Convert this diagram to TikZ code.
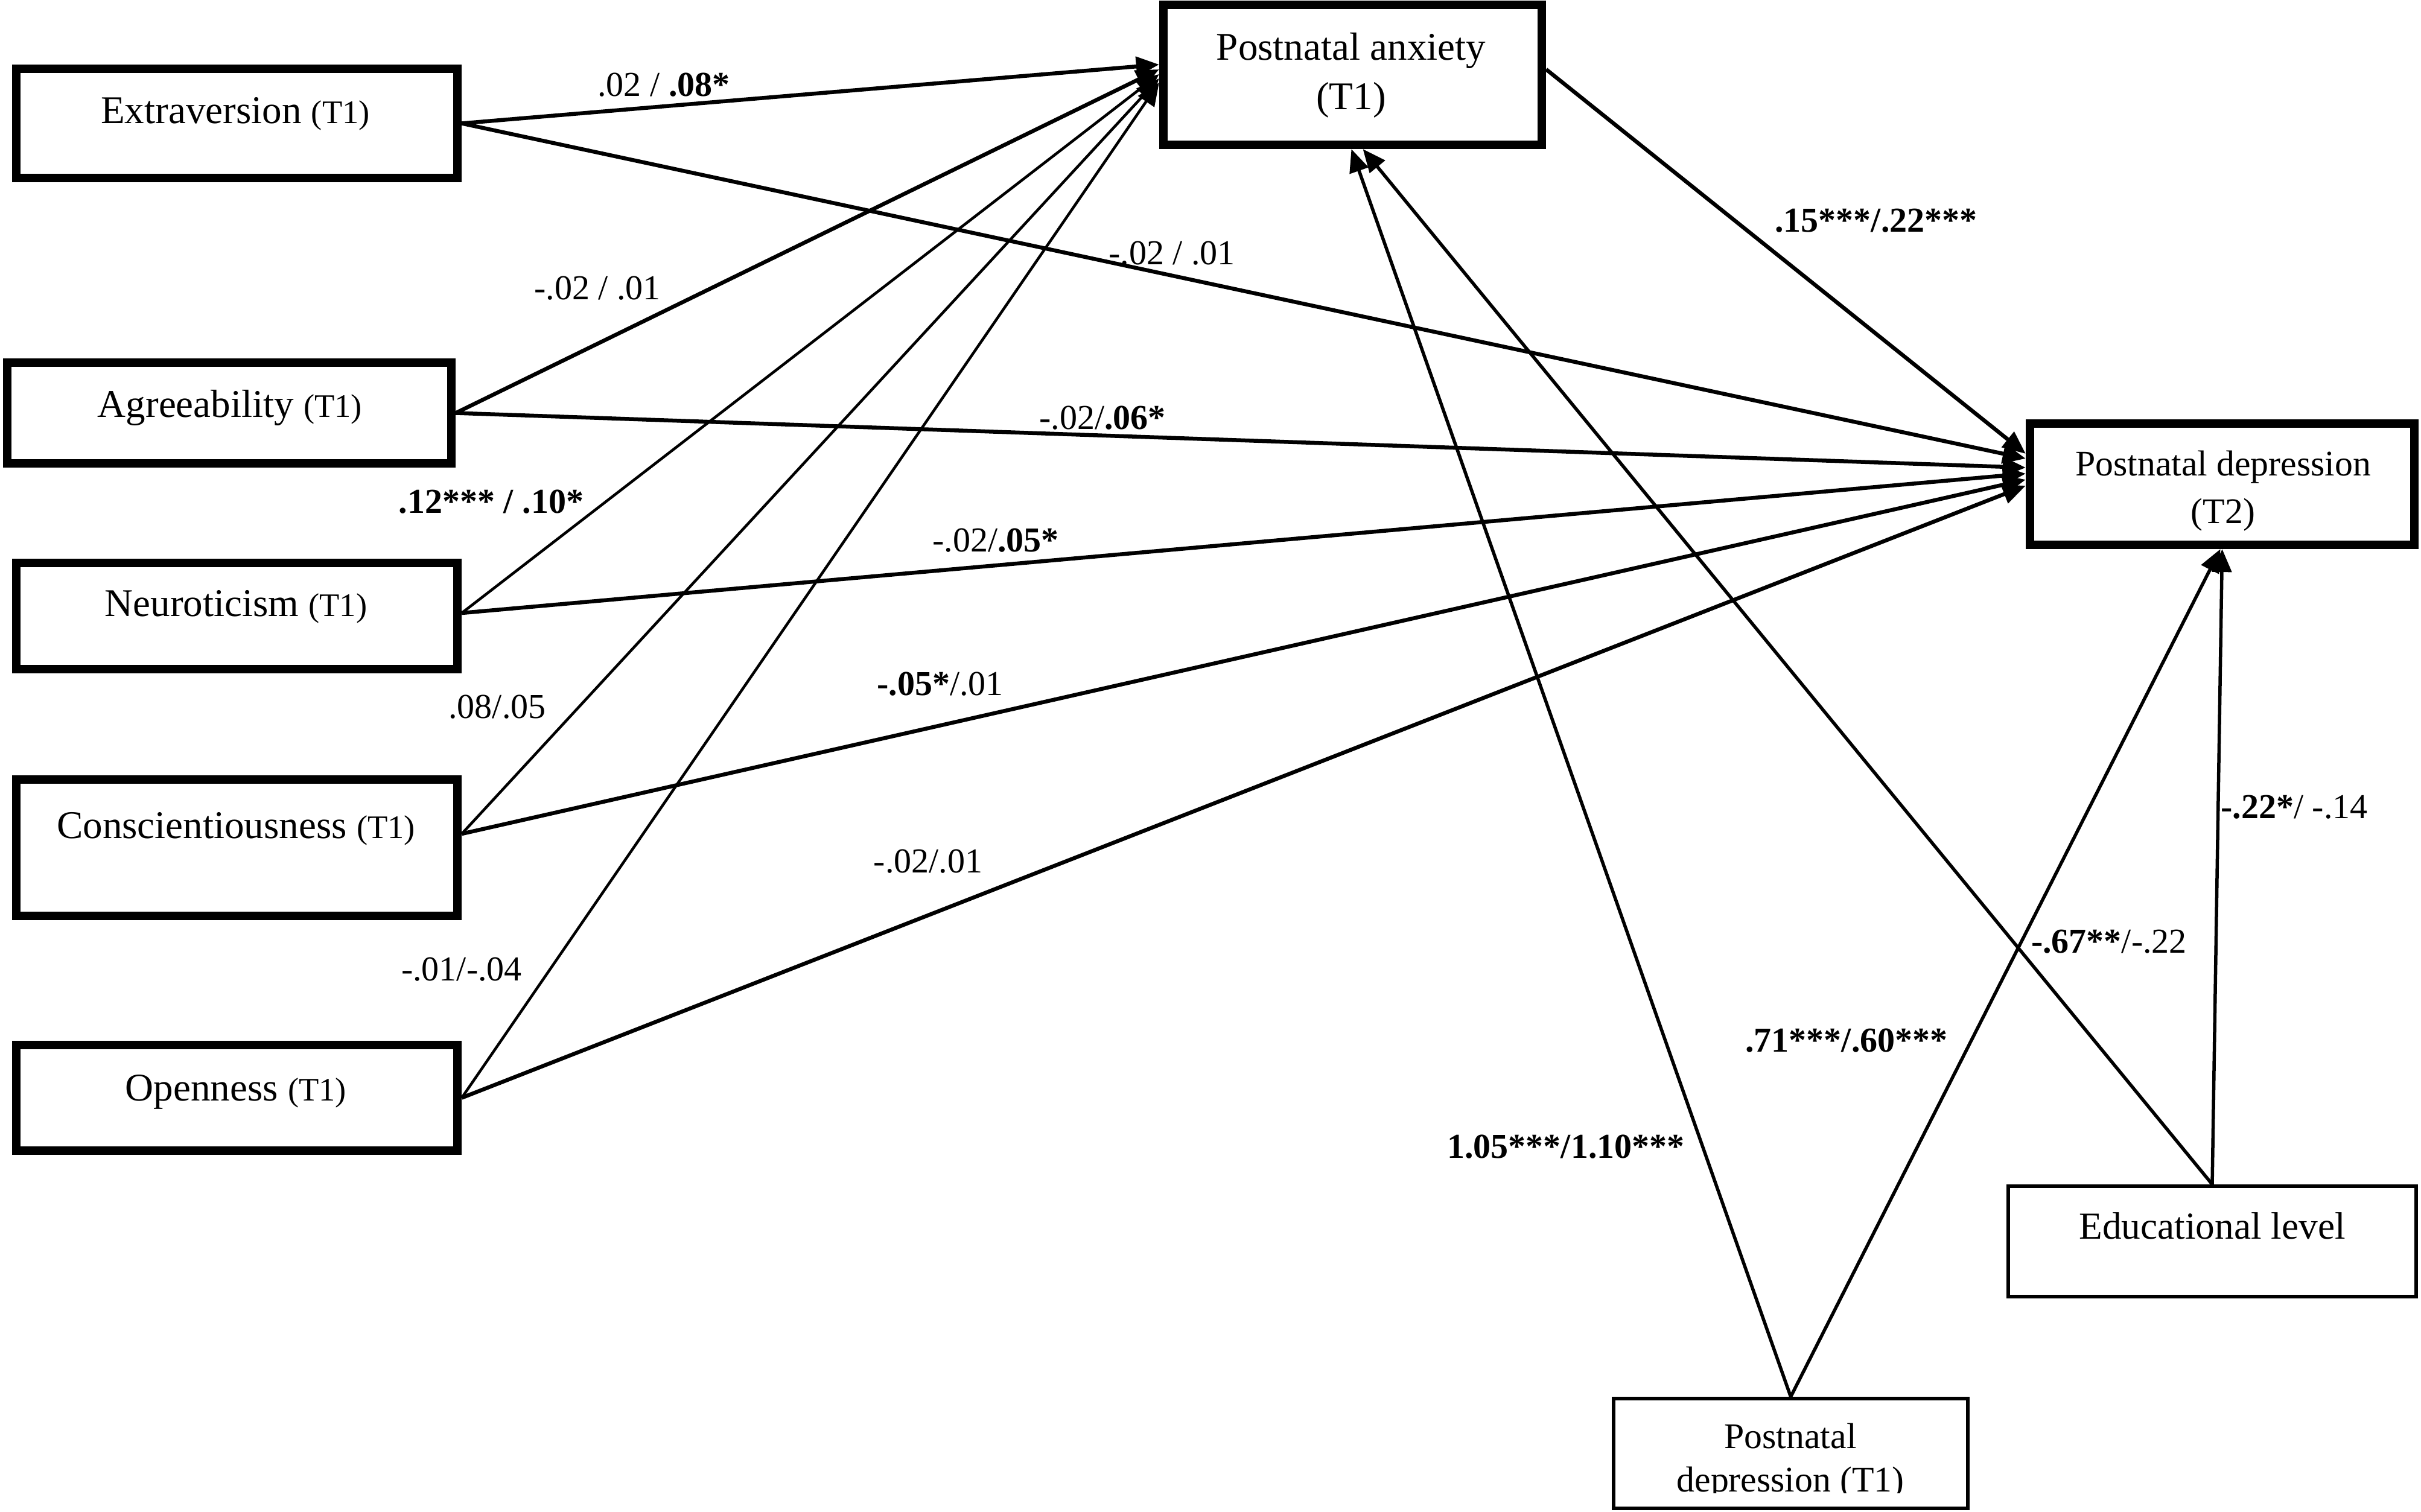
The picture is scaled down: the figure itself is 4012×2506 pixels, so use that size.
\documentclass[tikz,border=0pt]{standalone}
\usepackage{fontspec}
\setmainfont{Liberation Serif}
\usetikzlibrary{arrows.meta}
\newcommand{\tsmall}{\fontsize{15.5}{18}\selectfont}
\begin{document}
\begin{tikzpicture}[x=0.01cm,y=-0.01cm,
  bigbox/.style={draw, line width=0.14cm, inner sep=0pt, rectangle},
  smallbox/.style={draw, line width=0.06cm, inner sep=0pt, rectangle},
  boxtext/.style={anchor=base, inner sep=0pt, font=\fontsize{18.5}{22}\selectfont},
  midtext/.style={anchor=base, inner sep=0pt, font=\fontsize{17}{20}\selectfont},
  lab/.style={inner sep=0pt, font=\fontsize{16.5}{19}\selectfont},
  tip/.style={-{Triangle[length=0.38cm,width=0.32cm]}},
  thickarr/.style={tip, line width=0.065cm},
  thinarr/.style={tip, line width=0.045cm},
  botarr/.style={tip, line width=0.055cm},
]
\useasboundingbox (0,0) rectangle (4012,2506);

% ---- texts of boxes
\node[boxtext] (extrT) at (390,205) {Extraversion {\tsmall (T1)}};
\node[boxtext] (agreeT) at (381,691) {Agreeability {\tsmall (T1)}};
\node[boxtext] (neurT) at (391,1021) {Neuroticism {\tsmall (T1)}};
\node[boxtext] (conscT) at (391,1389) {Conscientiousness {\tsmall (T1)}};
\node[boxtext] (openT) at (391,1824) {Openness {\tsmall (T1)}};
\node[boxtext] (anxT1) at (2239,100) {Postnatal anxiety};
\node[boxtext] (anxT2) at (2239,182) {(T1)};
\node[midtext] (depT1) at (3684,788) {Postnatal depression};
\node[midtext] (depT2) at (3684,867) {(T2)};
\node[boxtext, font=\fontsize{18}{21}\selectfont] (eduT) at (3666,2053) {Educational level};
\node[midtext] (pdT1) at (2967,2400) {Postnatal};
\begin{scope}
  \clip (2671,2420) rectangle (3264,2474);
  \node[midtext] (pdT2) at (2967,2472) {depression (T1)};
\end{scope}

% ---- boxes
\node[bigbox, minimum width=7.31cm, minimum height=1.81cm] (extr) at (392.5,204.5) {};
\node[bigbox, minimum width=7.36cm, minimum height=1.67cm] (agree) at (380,684.5) {};
\node[bigbox, minimum width=7.31cm, minimum height=1.76cm] (neur) at (392.5,1021) {};
\node[bigbox, minimum width=7.31cm, minimum height=2.26cm] (consc) at (392.5,1405) {};
\node[bigbox, minimum width=7.31cm, minimum height=1.75cm] (open) at (392.5,1819.5) {};
\node[bigbox, minimum width=6.27cm, minimum height=2.32cm] (anx) at (2241.5,124) {};
\node[bigbox, minimum width=6.37cm, minimum height=2.01cm] (dep) at (3682.5,802.5) {};
\node[smallbox, minimum width=6.76cm, minimum height=1.83cm] (edu) at (3666,2057.5) {};
\node[smallbox, minimum width=5.87cm, minimum height=1.82cm] (pd1) at (2967.5,2409) {};

% ---- connectors
\draw[thickarr] (extr.east) -- ([yshift=0.17cm]anx.west);
\draw[thickarr] (extr.east) -- ([yshift=0.425cm]dep.west);
\draw[thickarr] (agree.east) -- ([yshift=0.09cm]anx.west);
\draw[thickarr] (agree.east) -- ([yshift=0.275cm]dep.west);
\draw[thinarr] ([yshift=0.05cm]neur.east) -- ([yshift=0.01cm]anx.west);
\draw[thickarr] ([yshift=0.05cm]neur.east) -- ([yshift=0.175cm]dep.west);
\draw[thinarr] ([yshift=0.23cm]consc.east) -- ([yshift=-0.06cm]anx.west);
\draw[thickarr] ([yshift=0.23cm]consc.east) -- ([yshift=0.075cm]dep.west);
\draw[thinarr] (open.east) -- ([yshift=-0.13cm]anx.west);
\draw[thickarr] (open.east) -- ([yshift=-0.025cm]dep.west);
\draw[thickarr] ([yshift=0.09cm]anx.east) -- ([yshift=0.505cm]dep.west);
\draw[botarr] (pd1.north) -- ([xshift=-0.02cm]anx.south);
\draw[botarr] (pd1.north) -- ([xshift=-0.03cm]dep.south);
\draw[botarr] (edu.north) -- ([xshift=0.17cm]anx.south);
\draw[botarr] (edu.north) -- (dep.south);

% ---- labels
\node[lab] (l1) at (1100,141) {.02 / \textbf{.08*}};
\node[lab] (l2) at (1942,420) {-.02 / .01};
\node[lab] (l3) at (990,478) {-.02 / .01};
\node[lab] (l4) at (1827,693) {-.02/\textbf{.06*}};
\node[lab] (l5) at (814,832) {\textbf{.12*** / .10*}};
\node[lab] (l6) at (1650,896) {-.02/\textbf{.05*}};
\node[lab] (l7) at (824,1172) {.08/.05};
\node[lab] (l8) at (1558,1134) {\textbf{-.05*}/.01};
\node[lab] (l9) at (1538,1428) {-.02/.01};
\node[lab] (l10) at (765,1607) {-.01/-.04};
\node[lab] (l11) at (3109,366) {\textbf{.15***/.22***}};
\node[lab] (l12) at (2595,1901) {\textbf{1.05***/1.10***}};
\node[lab] (l13) at (3060,1725) {\textbf{.71***/.60***}};
\node[lab] (l14) at (3495,1561) {\textbf{-.67**}/-.22};
\node[lab] (l15) at (3802,1338) {\textbf{-.22*}/ -.14};
\end{tikzpicture}
\end{document}
